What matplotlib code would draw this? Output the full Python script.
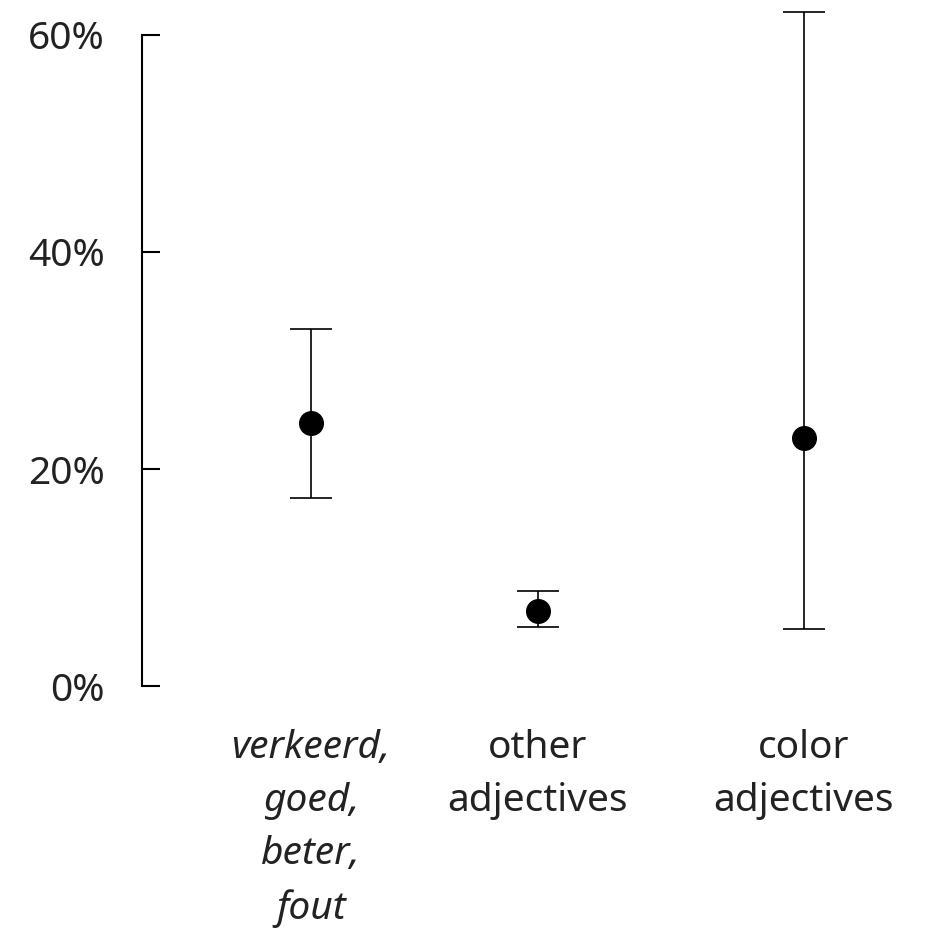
import matplotlib.pyplot as plt

# proportion per adjective group with confidence interval (%)
groups = ['verkeerd,\ngoed,\nbeter,\nfout', 'other\nadjectives', 'color\nadjectives']
means = [24.2, 6.9, 22.9]
lower = [17.3, 5.4, 5.3]
upper = [32.9, 8.8, 62.1]
yticks = [0, 20, 40, 60]

xpos = [0.0, 1.0, 2.17]

plt.rcParams['font.family'] = ['Noto Sans', 'DejaVu Sans']

fig = plt.figure(figsize=(9.25, 9.33), dpi=100)
ax = fig.add_axes([0.1535, 0.2647, 0.8465, 0.7327])

err = [[m - l for m, l in zip(means, lower)], [u - m for m, u in zip(means, upper)]]
ax.errorbar(xpos, means, yerr=err, fmt='o', color='black', markersize=17,
            elinewidth=1.2, capsize=15, capthick=1.2)

ax.set_ylim(0, 63)
ax.set_xlim(-0.744, 2.705)
ax.set_yticks(yticks)
ax.set_yticklabels([f'{t}%' for t in yticks], fontsize=28, color='#222222')
ax.tick_params(axis='y', direction='in', length=13, width=1.5, pad=27)

ax.set_xticks(xpos)
ax.set_xticklabels(groups, fontsize=28, color='#222222', linespacing=1.52)
ax.get_xticklabels()[0].set_style('italic')
ax.tick_params(axis='x', length=0, pad=31)

for s in ['top', 'right', 'bottom']:
    ax.spines[s].set_visible(False)
ax.spines['left'].set_bounds(0, 60)
ax.spines['left'].set_linewidth(1.5)

fig.savefig('out.png', dpi=100)
